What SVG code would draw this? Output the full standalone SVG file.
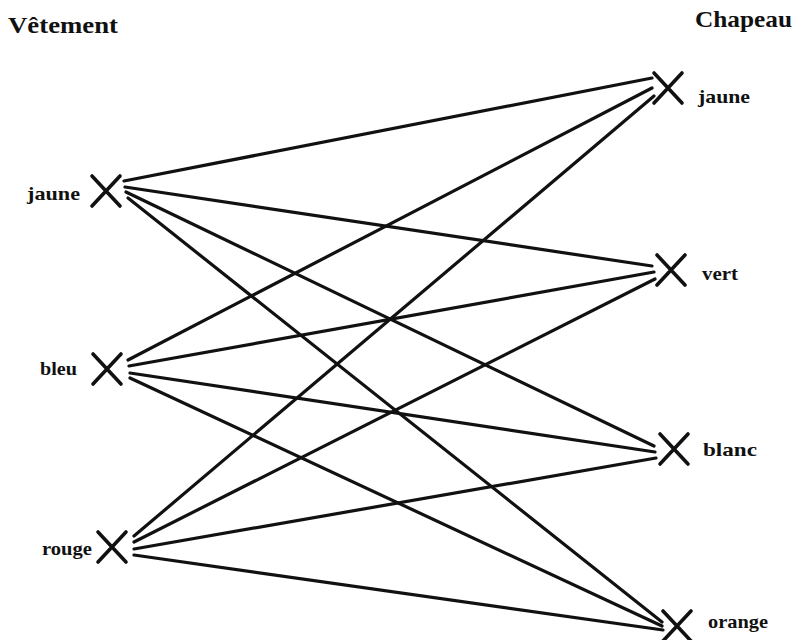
<svg xmlns="http://www.w3.org/2000/svg" width="796" height="640" viewBox="0 0 796 640">
<style>
.bg{fill:#ffffff}
.title{font-family:"Liberation Serif","DejaVu Serif",serif;font-weight:bold;font-size:24px;fill:#111111}
.lbl{font-family:"Liberation Serif","DejaVu Serif",serif;font-weight:bold;font-size:19px;fill:#111111}
.x{stroke:#111111;stroke-width:3.6;stroke-linecap:round;fill:none}
.edge{stroke:#111111;stroke-width:3.2;stroke-linecap:round;fill:none}
</style>
<defs>
<path id="cross" d="M-14,-15 L14,15 M14,-15 L-14,15"/>
</defs>
<rect class="bg" x="0" y="0" width="796" height="640"/>
<text class="title" x="8" y="33" textLength="110" lengthAdjust="spacingAndGlyphs">Vêtement</text>
<text class="title" x="695" y="27" textLength="97" lengthAdjust="spacingAndGlyphs">Chapeau</text>
<g id="connectors">
<line class="edge" x1="124" y1="181" x2="652" y2="78"/>
<line class="edge" x1="125" y1="187" x2="652" y2="266"/>
<line class="edge" x1="126" y1="192" x2="654" y2="446"/>
<line class="edge" x1="128" y1="198" x2="662" y2="622"/>
<line class="edge" x1="128" y1="360" x2="652" y2="88"/>
<line class="edge" x1="129" y1="366" x2="654" y2="272"/>
<line class="edge" x1="130" y1="373" x2="655" y2="452"/>
<line class="edge" x1="130" y1="378" x2="662" y2="626"/>
<line class="edge" x1="134" y1="536" x2="654" y2="96"/>
<line class="edge" x1="134" y1="542" x2="655" y2="279"/>
<line class="edge" x1="134" y1="549" x2="656" y2="458"/>
<line class="edge" x1="134" y1="555" x2="663" y2="630"/>
</g>
<g id="v-jaune">
<use href="#cross" class="x" transform="translate(106,191)"/>
<text class="lbl" x="27" y="200" textLength="53" lengthAdjust="spacingAndGlyphs">jaune</text>
</g>
<g id="v-bleu">
<use href="#cross" class="x" transform="translate(107,369)"/>
<text class="lbl" x="40" y="375" textLength="37" lengthAdjust="spacingAndGlyphs">bleu</text>
</g>
<g id="v-rouge">
<use href="#cross" class="x" transform="translate(112,547)"/>
<text class="lbl" x="42" y="555" textLength="50" lengthAdjust="spacingAndGlyphs">rouge</text>
</g>
<g id="c-jaune">
<use href="#cross" class="x" transform="translate(668,88)"/>
<text class="lbl" x="698" y="103" textLength="52" lengthAdjust="spacingAndGlyphs">jaune</text>
</g>
<g id="c-vert">
<use href="#cross" class="x" transform="translate(671,270)"/>
<text class="lbl" x="702" y="280" textLength="36" lengthAdjust="spacingAndGlyphs">vert</text>
</g>
<g id="c-blanc">
<use href="#cross" class="x" transform="translate(674,449)"/>
<text class="lbl" x="703" y="456" textLength="54" lengthAdjust="spacingAndGlyphs">blanc</text>
</g>
<g id="c-orange">
<use href="#cross" class="x" transform="translate(677,626)"/>
<text class="lbl" x="708" y="628" textLength="60" lengthAdjust="spacingAndGlyphs">orange</text>
</g>
</svg>
